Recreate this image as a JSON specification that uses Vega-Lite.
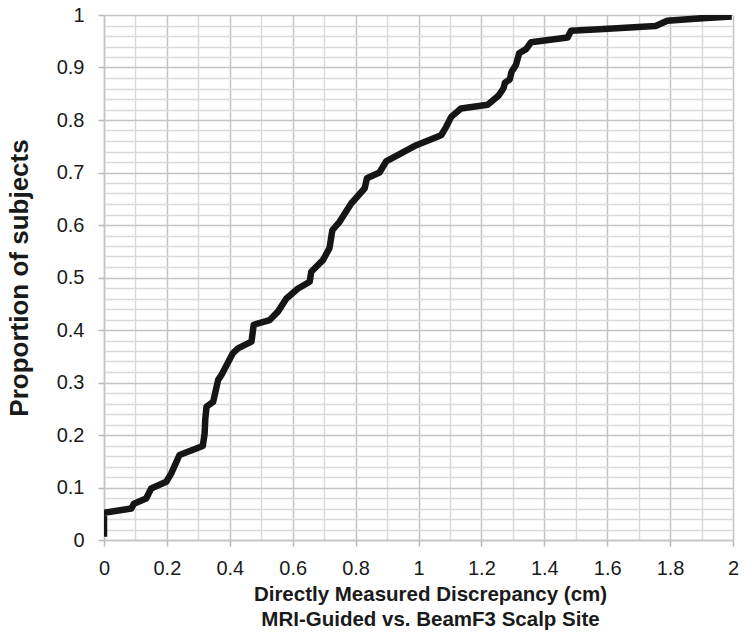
{
  "$schema": "https://vega.github.io/schema/vega-lite/v6.json",
  "autosize": "none",
  "width": 629,
  "height": 525,
  "padding": {"left": 104, "top": 15, "right": 15, "bottom": 101},
  "background": "white",
  "config": {"view": {"stroke": null}, "font": "Liberation Sans"},
  "data": {"values": [
    {"d": 0, "p": 0.006}, {"d": 0, "p": 0.052}, {"d": 0.087, "p": 0.060}, {"d": 0.095, "p": 0.069},
    {"d": 0.134, "p": 0.079}, {"d": 0.150, "p": 0.098}, {"d": 0.198, "p": 0.111}, {"d": 0.214, "p": 0.127},
    {"d": 0.240, "p": 0.162}, {"d": 0.314, "p": 0.179}, {"d": 0.320, "p": 0.203}, {"d": 0.322, "p": 0.230},
    {"d": 0.326, "p": 0.254}, {"d": 0.347, "p": 0.263}, {"d": 0.363, "p": 0.305}, {"d": 0.373, "p": 0.314},
    {"d": 0.410, "p": 0.356}, {"d": 0.426, "p": 0.365}, {"d": 0.469, "p": 0.378}, {"d": 0.476, "p": 0.410},
    {"d": 0.527, "p": 0.419}, {"d": 0.553, "p": 0.435}, {"d": 0.580, "p": 0.460}, {"d": 0.617, "p": 0.479},
    {"d": 0.654, "p": 0.492}, {"d": 0.659, "p": 0.511}, {"d": 0.696, "p": 0.533}, {"d": 0.717, "p": 0.556},
    {"d": 0.726, "p": 0.590}, {"d": 0.749, "p": 0.606}, {"d": 0.786, "p": 0.641}, {"d": 0.829, "p": 0.670},
    {"d": 0.836, "p": 0.689}, {"d": 0.876, "p": 0.700}, {"d": 0.897, "p": 0.721}, {"d": 0.993, "p": 0.752},
    {"d": 1.072, "p": 0.771}, {"d": 1.088, "p": 0.787}, {"d": 1.104, "p": 0.806}, {"d": 1.135, "p": 0.822},
    {"d": 1.220, "p": 0.829}, {"d": 1.254, "p": 0.846}, {"d": 1.270, "p": 0.860}, {"d": 1.275, "p": 0.871},
    {"d": 1.290, "p": 0.877}, {"d": 1.296, "p": 0.892}, {"d": 1.310, "p": 0.905}, {"d": 1.320, "p": 0.927},
    {"d": 1.342, "p": 0.935}, {"d": 1.358, "p": 0.948}, {"d": 1.474, "p": 0.957}, {"d": 1.485, "p": 0.970},
    {"d": 1.575, "p": 0.973}, {"d": 1.754, "p": 0.979}, {"d": 1.791, "p": 0.989}, {"d": 1.903, "p": 0.994},
    {"d": 1.996, "p": 0.997}
  ]},
  "mark": {"type": "line", "color": "#151515", "strokeWidth": 6.5, "strokeJoin": "round", "strokeCap": "butt", "clip": true},
  "encoding": {
    "x": {
      "field": "d", "type": "quantitative",
      "scale": {"domain": [0, 2], "nice": false, "zero": false},
      "axis": {
        "values": [0, 0.1, 0.2, 0.3, 0.4, 0.5, 0.6, 0.7, 0.8, 0.9, 1, 1.1, 1.2, 1.3, 1.4, 1.5, 1.6, 1.7, 1.8, 1.9, 2],
        "labelExpr": "abs(round(datum.value*5) - datum.value*5) < 0.001 ? format(datum.value, '~g') : ''",
        "grid": true,
        "gridColor": {"condition": {"test": "abs(round(datum.value*5) - datum.value*5) < 0.001", "value": "#c4c4c4"}, "value": "#dadada"},
        "gridWidth": 1.5,
        "tickColor": {"condition": {"test": "abs(round(datum.value*5) - datum.value*5) < 0.001", "value": "#b8b8b8"}, "value": "rgba(0,0,0,0)"},
        "tickSize": 6,
        "tickWidth": 1.5,
        "domainColor": "#c4c4c4",
        "domainWidth": 1.5,
        "labelFont": "Liberation Sans",
        "labelFontSize": 20,
        "labelColor": "#1a1a1a",
        "labelPadding": 12,
        "labelFlush": false,
        "labelOverlap": false,
        "title": ["Directly Measured Discrepancy (cm)", "MRI-Guided vs. BeamF3 Scalp Site"],
        "titleFont": "Liberation Sans",
        "titleFontSize": 20.5,
        "titleFontWeight": "bold",
        "titleColor": "#1a1a1a",
        "titleLineHeight": 25,
        "titlePadding": 6,
        "titleX": 326,
        "titleAlign": "center"
      }
    },
    "y": {
      "field": "p", "type": "quantitative",
      "scale": {"domain": [0, 1], "nice": false, "zero": false},
      "axis": {
        "values": [0, 0.02, 0.04, 0.06, 0.08, 0.1, 0.12, 0.14, 0.16, 0.18, 0.2, 0.22, 0.24, 0.26, 0.28, 0.3, 0.32, 0.34, 0.36, 0.38, 0.4, 0.42, 0.44, 0.46, 0.48, 0.5, 0.52, 0.54, 0.56, 0.58, 0.6, 0.62, 0.64, 0.66, 0.68, 0.7, 0.72, 0.74, 0.76, 0.78, 0.8, 0.82, 0.84, 0.86, 0.88, 0.9, 0.92, 0.94, 0.96, 0.98, 1],
        "labelExpr": "abs(round(datum.value*10) - datum.value*10) < 0.001 ? format(datum.value, '~g') : ''",
        "grid": true,
        "gridColor": {"condition": {"test": "abs(round(datum.value*10) - datum.value*10) < 0.001", "value": "#c4c4c4"}, "value": "#dadada"},
        "gridWidth": 1.5,
        "tickColor": {"condition": {"test": "abs(round(datum.value*10) - datum.value*10) < 0.001", "value": "#b8b8b8"}, "value": "rgba(0,0,0,0)"},
        "tickSize": 6,
        "tickWidth": 1.5,
        "domainColor": "#c4c4c4",
        "domainWidth": 1.5,
        "labelFont": "Liberation Sans",
        "labelFontSize": 20,
        "labelColor": "#1a1a1a",
        "labelPadding": 14,
        "labelFlush": false,
        "labelOverlap": false,
        "title": "Proportion of subjects",
        "titleFont": "Liberation Sans",
        "titleFontSize": 26,
        "titleFontWeight": "bold",
        "titleColor": "#1a1a1a",
        "titlePadding": 24
      }
    },
    "order": {"field": "p", "type": "quantitative"}
  }
}
